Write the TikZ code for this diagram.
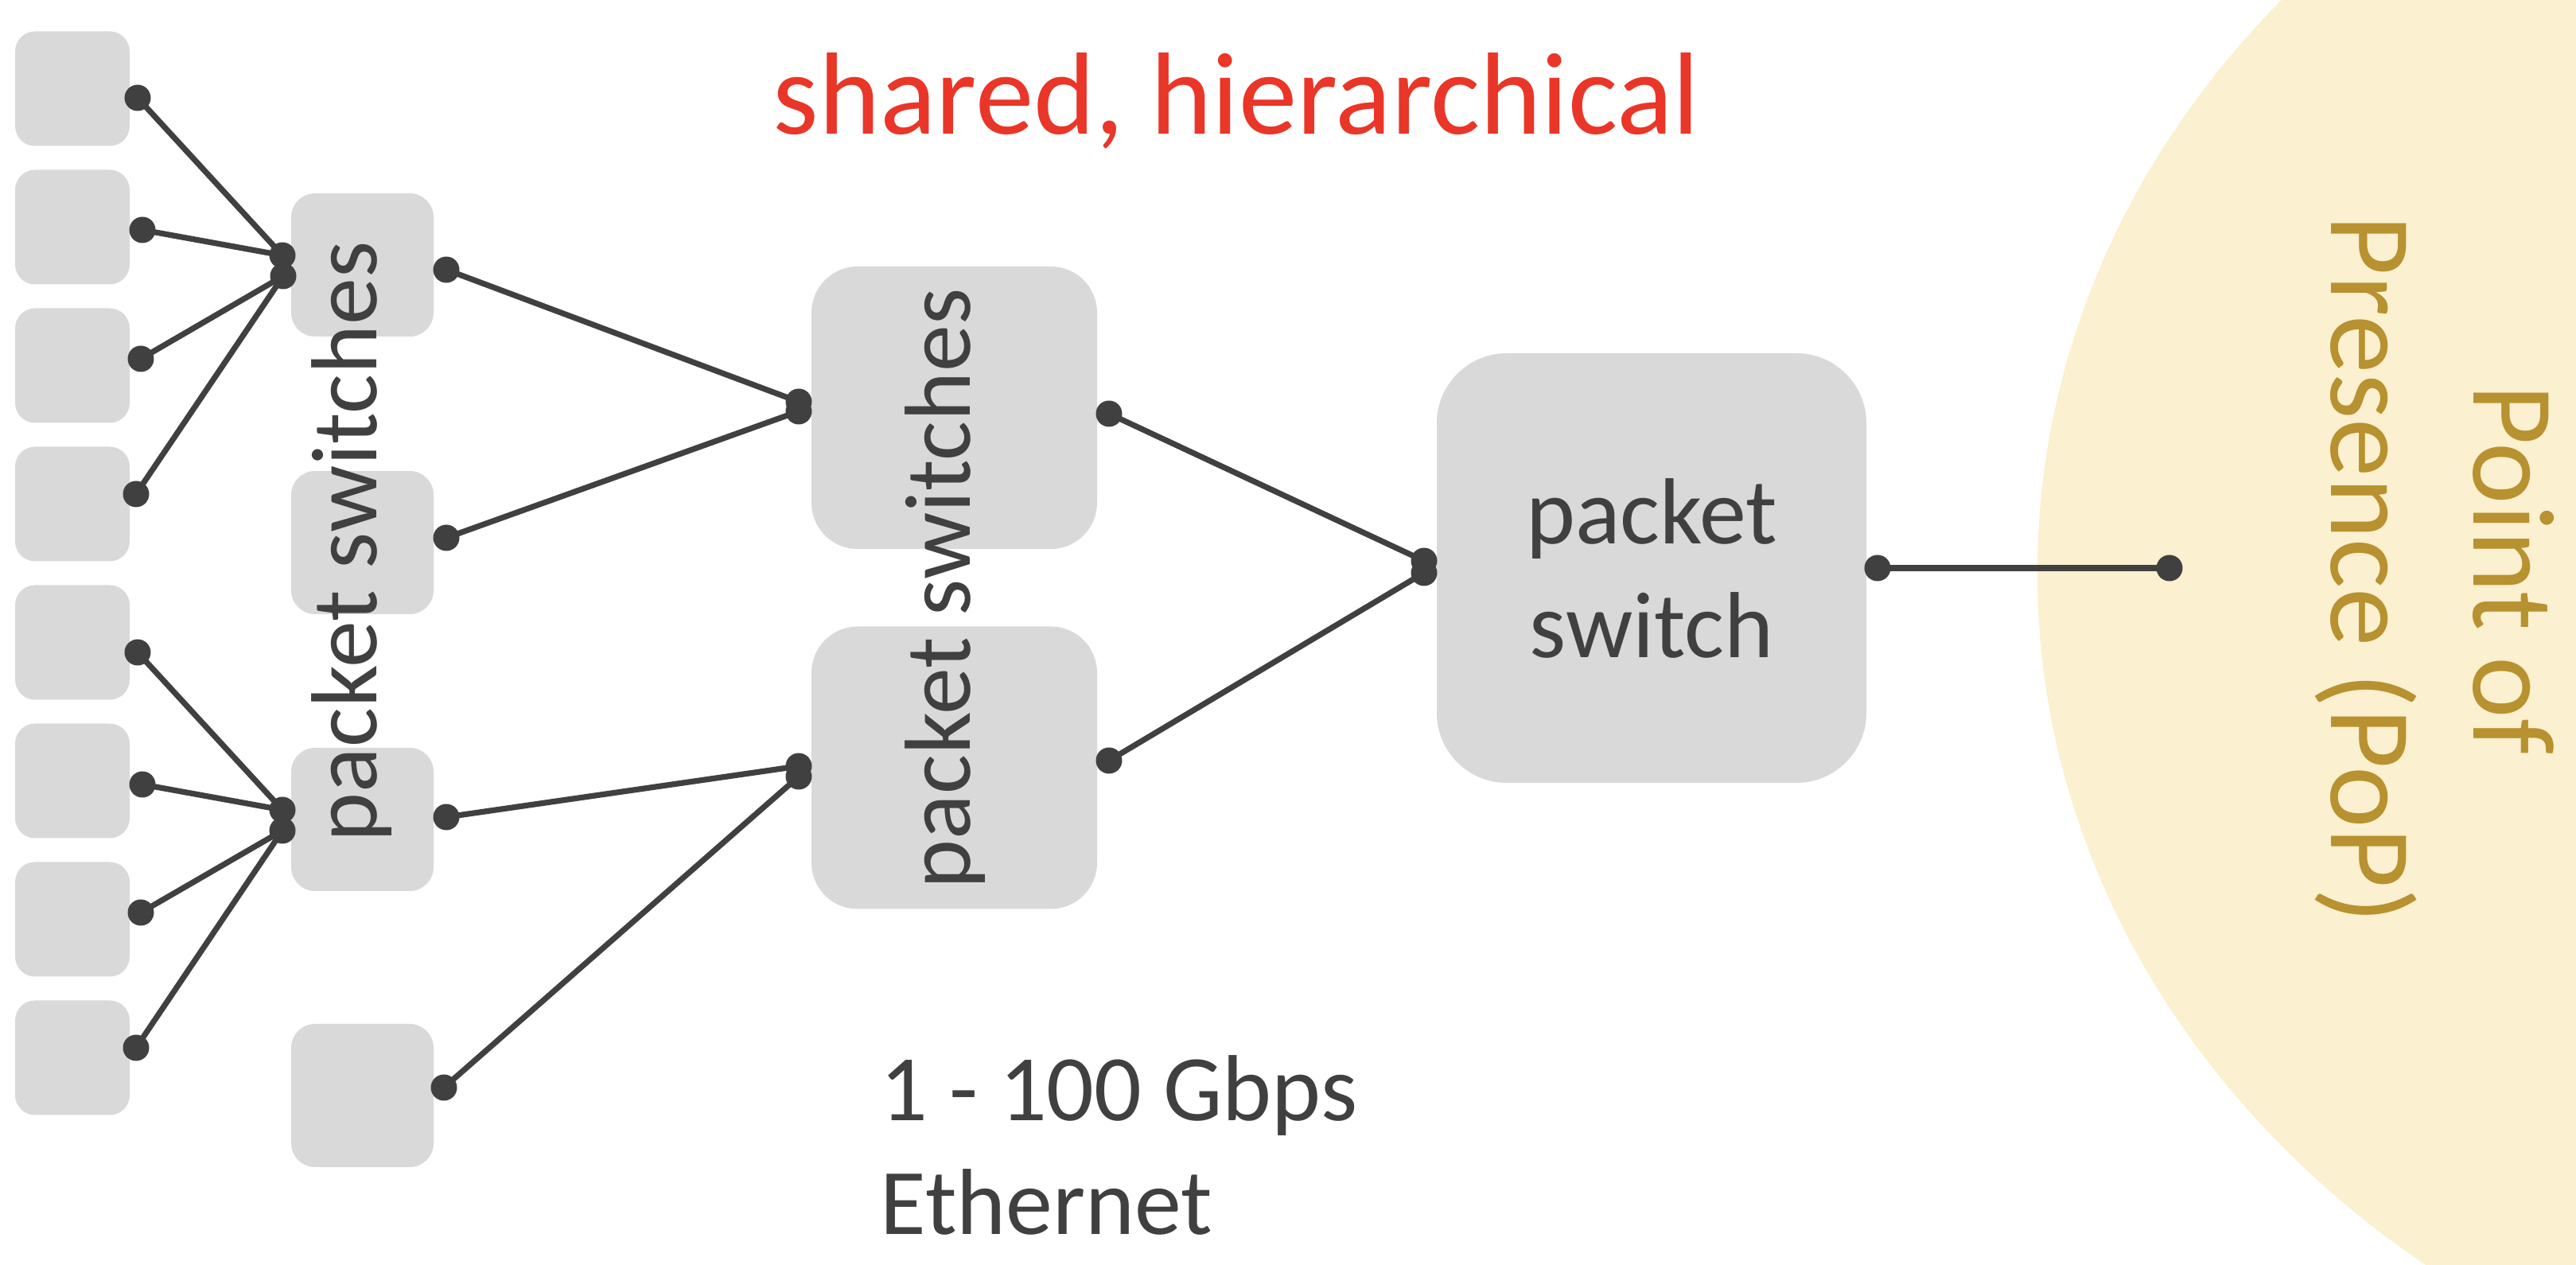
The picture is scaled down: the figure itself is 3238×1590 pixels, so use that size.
\documentclass[tikz,border=0pt]{standalone}
\usepackage{fontspec}
\setmainfont{Carlito}
\definecolor{boxgray}{RGB}{217,217,217}
\definecolor{ink}{RGB}{64,64,64}
\definecolor{redtxt}{RGB}{233,54,40}
\definecolor{popfill}{RGB}{251,240,207}
\definecolor{poptxt}{RGB}{184,145,48}
\begin{document}
\begin{tikzpicture}[x=0.25pt,y=-0.25pt,
  host/.style={fill=boxgray, draw=none, rounded corners=6.25pt, minimum width=36pt, minimum height=36pt, inner sep=0pt},
  swtwo/.style={fill=boxgray, draw=none, rounded corners=7.5pt, minimum width=44.75pt, minimum height=45pt, inner sep=0pt},
  swthree/.style={fill=boxgray, draw=none, rounded corners=14.5pt, minimum width=89.75pt, minimum height=88.75pt, inner sep=0pt},
  swfour/.style={fill=boxgray, draw=none, rounded corners=22pt, minimum width=135pt, minimum height=135pt, inner sep=0pt,
     text=ink, align=center, font=\fontsize{29.5pt}{35.75pt}\selectfont},
  dot/.style={circle, fill=ink, draw=none, inner sep=0pt, minimum size=8.25pt},
  link/.style={draw=ink, line width=1.8pt},
  lbl/.style={text=ink, inner sep=0pt, font=\fontsize{29.5pt}{35.75pt}\selectfont},
]
\useasboundingbox (0,0) rectangle (3238,1590);
\clip (0,0) rectangle (3238,1590);

% point of presence
\fill[popfill] (3819,720) ellipse [x radius=1258, y radius=1100];

% hosts
\foreach \i/\yy in {1/111.5,2/285.5,3/459.5,4/633.5,5/807.5,6/981.5,7/1155.5,8/1329.5}
  \node[host] (h\i) at (91,\yy) {};

% level 2 switches
\node[swtwo] (sa) at (455.5,333) {};
\node[swtwo] (sb) at (455.5,682) {};
\node[swtwo] (sc) at (455.5,1030) {};
\node[swtwo] (sd) at (455.5,1377) {};

% level 3 switches
\node[swthree] (se) at (1199.5,512.5) {};
\node[swthree] (sf) at (1199.5,965) {};

% level 4 switch
\node[swfour] (sg) at (2076,714) {packet\\switch};

% dots
\node[dot] (u1) at (173,123) {};
\node[dot] (u2) at (179,289) {};
\node[dot] (u3) at (177,451) {};
\node[dot] (u4) at (171,621) {};
\node[dot] (l1) at (173,820) {};
\node[dot] (l2) at (179,986) {};
\node[dot] (l3) at (177,1147) {};
\node[dot] (l4) at (171,1317) {};
\node[dot] (hua) at (355,321) {};
\node[dot] (hub) at (356,347) {};
\node[dot] (hla) at (355,1018) {};
\node[dot] (hlb) at (355,1044) {};
\node[dot] (ar) at (561,339) {};
\node[dot] (br) at (561,676) {};
\node[dot] (cr) at (561,1027) {};
\node[dot] (dr) at (558,1367) {};
\node[dot] (ea) at (1004,505) {};
\node[dot] (eb) at (1004,517) {};
\node[dot] (fa) at (1004,963) {};
\node[dot] (fb) at (1004,976) {};
\node[dot] (er) at (1394,520) {};
\node[dot] (fr) at (1394,956) {};
\node[dot] (ga) at (1790,705) {};
\node[dot] (gb) at (1790,720) {};
\node[dot] (gr) at (2360,714) {};
\node[dot] (pp) at (2727,714) {};

% links
\draw[link] (u1.center) -- (hua.center);
\draw[link] (u2.center) -- (hua.center);
\draw[link] (u3.center) -- (hub.center);
\draw[link] (u4.center) -- (hub.center);
\draw[link] (l1.center) -- (hla.center);
\draw[link] (l2.center) -- (hla.center);
\draw[link] (l3.center) -- (hlb.center);
\draw[link] (l4.center) -- (hlb.center);
\draw[link] (ar.center) -- (ea.center);
\draw[link] (br.center) -- (eb.center);
\draw[link] (cr.center) -- (fa.center);
\draw[link] (dr.center) -- (fb.center);
\draw[link] (er.center) -- (ga.center);
\draw[link] (fr.center) -- (gb.center);
\draw[link] (gr.center) -- (pp.center);

% texts
\node[lbl, rotate=90, anchor=base] (tone) at (473,681) {packet switches};
\node[lbl, rotate=90, anchor=base] (ttwo) at (1219,740) {packet switches};
\node[text=redtxt, inner sep=0pt, anchor=base, font=\fontsize{36.75pt}{44pt}\selectfont] (title) at (1554,169) {shared, hierarchical};
\node[lbl, align=left, anchor=base west] (rate) at (1106,1552) {1 - 100 Gbps\\Ethernet};
\node[text=poptxt, inner sep=0pt, rotate=-90, align=center, font=\fontsize{36.75pt}{44.75pt}\selectfont] (pop) at (3060,716) {Point of\\Presence (PoP)};
\end{tikzpicture}
\end{document}
